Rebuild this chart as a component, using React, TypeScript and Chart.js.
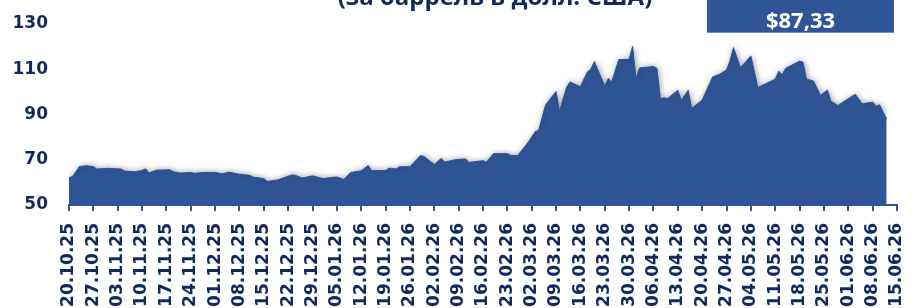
import React, { useEffect, useRef } from "react";
import { Chart, registerables } from "chart.js";

Chart.register(...registerables);

// Days counted from 20.10.25
const dayOffsets = [
  0, 1, 3, 5, 7, 8, 11, 15, 16, 19, 21, 22, 23, 25, 29, 30, 32, 35, 36, 39, 42, 44, 46, 49, 52, 53, 56, 57, 60,
  64, 65, 67, 70, 73, 77, 79, 81, 84, 86, 87, 91, 92, 94, 95, 98, 101, 102, 105, 107, 108, 111, 113, 114, 115,
  119, 120, 122, 126, 127, 129, 132, 134, 135, 137, 140, 141, 143, 144, 147, 149, 150, 151, 154, 155, 156, 158,
  161, 162, 163, 164, 168, 169, 170, 171, 172, 175, 176, 178, 179, 182, 185, 187, 189, 190, 191, 193, 196, 198,
  203, 204, 205, 206, 210, 211, 212, 214, 216, 218, 219, 221, 224, 226, 228, 231, 232, 233, 235,
];

const prices = [
  62, 62.6, 67, 67.3, 67, 65.9, 66.2, 65.9, 65, 64.7, 65.3, 66, 64.1, 65.4, 65.6, 64.7, 64.1, 64.4, 64, 64.4, 64.4,
  63.8, 64.5, 63.6, 63.1, 62.3, 61.7, 60.4, 61.1, 63.3, 63.2, 61.9, 62.9, 61.7, 62.4, 61.3, 64.4, 65.1, 67.5, 65.2,
  65.2, 66.3, 65.9, 66.9, 66.9, 71.8, 71.5, 67.9, 70.6, 69, 70, 70.3, 70.3, 68.8, 69.6, 69, 72.7, 72.7, 71.9, 71.9,
  77.7, 82.4, 83, 94.3, 100.2, 91.5, 101.9, 104.4, 102.3, 108.8, 110, 113.4, 102.6, 105.9, 104.4, 114.2, 114.4,
  120.1, 105.9, 110.6, 111.2, 110.4, 97, 97.4, 97, 100.7, 96.4, 100.7, 92.7, 96.4, 106.6, 107.8, 109.7, 113.7,
  119.6, 110.7, 115.9, 101.9, 105.6, 109.1, 107.6, 110.4, 113.6, 113.1, 105.6, 104.8, 98.4, 100.8, 95.9, 94, 97,
  98.9, 94.7, 95.5, 93.7, 94.3, 88,
];

const tickLabels = [
  "20.10.25", "27.10.25", "03.11.25", "10.11.25", "17.11.25", "24.11.25", "01.12.25", "08.12.25", "15.12.25",
  "22.12.25", "29.12.25", "05.01.26", "12.01.26", "19.01.26", "26.01.26", "02.02.26", "09.02.26", "16.02.26",
  "23.02.26", "02.03.26", "09.03.26", "16.03.26", "23.03.26", "30.03.26", "06.04.26", "13.04.26", "20.04.26",
  "27.04.26", "04.05.26", "11.05.26", "18.05.26", "25.05.26", "01.06.26", "08.06.26", "15.06.26",
];
const tickStepDays = 7;

const yMin = 50;
const yMax = 130;
const yStep = 20;

const titleText = "(за баррель в долл. США)";
const lastPriceText = "$87,33";

const BLUE = "#2F5597";
const NAVY = "#13295E";

const shadowPlugin = {
  id: "areaShadow",
  beforeDatasetsDraw(chart: any) {
    const c = chart.ctx;
    c.save();
    c.shadowColor = "rgba(0,0,0,0.35)";
    c.shadowBlur = 6;
    c.shadowOffsetX = 1;
    c.shadowOffsetY = 0;
  },
  afterDatasetsDraw(chart: any) {
    chart.ctx.restore();
  },
};

export default function App() {
  const ref = useRef<HTMLCanvasElement>(null);

  useEffect(() => {
    document.body.style.margin = "0";
    const canvas = ref.current!;
    const chart = new Chart(canvas, {
      type: "line",
      data: {
        datasets: [
          {
            data: dayOffsets.map((d, i) => ({ x: d, y: prices[i] })),
            fill: "start",
            backgroundColor: BLUE,
            borderColor: BLUE,
            borderWidth: 1,
            pointRadius: 0,
            tension: 0,
          },
        ],
      },
      options: {
        responsive: false,
        animation: false,
        devicePixelRatio: 1,
        layout: { padding: { top: 24, right: 15, left: 0, bottom: 0 } },
        plugins: { legend: { display: false }, tooltip: { enabled: false }, title: { display: false } },
        scales: {
          x: {
            type: "linear",
            min: 0,
            max: (tickLabels.length - 1) * tickStepDays,
            afterBuildTicks: (scale: any) => {
              scale.ticks = tickLabels.map((_, i) => ({ value: i * tickStepDays }));
            },
            afterFit: (scale: any) => {
              scale.height = 103;
              scale.paddingLeft = 0;
              scale.paddingRight = 0;
            },
            ticks: {
              autoSkip: false,
              maxRotation: 90,
              minRotation: 90,
              padding: 12,
              color: NAVY,
              font: { family: "DejaVu Sans", weight: "bold", size: 17 },
              callback: (_v: any, index: number) => tickLabels[index],
            },
            grid: {
              display: true,
              drawOnChartArea: false,
              drawTicks: true,
              tickLength: 6,
              color: BLUE,
              lineWidth: 2,
            },
            border: { display: true, color: BLUE, width: 2 },
          },
          y: {
            min: yMin,
            max: yMax,
            afterFit: (scale: any) => {
              scale.width = 69;
              scale.paddingTop = 0;
              scale.paddingBottom = 0;
            },
            ticks: {
              stepSize: yStep,
              padding: 21,
              color: NAVY,
              font: { family: "DejaVu Sans", weight: "bold", size: 17 },
            },
            grid: { display: false, drawTicks: false },
            border: { display: false },
          },
        },
      },
      plugins: [shadowPlugin],
    } as any);
    return () => chart.destroy();
  }, []);

  return (
    <div style={{ position: "absolute", left: 0, top: 0, width: 912, height: 308, overflow: "hidden", background: "#fff" }}>
      <canvas ref={ref} width={912} height={308} style={{ display: "block", width: 912, height: 308 }} />
      <div
        style={{
          position: "absolute",
          left: 280,
          width: 430,
          top: -16,
          lineHeight: "24px",
          fontSize: 24,
          fontFamily: "'Open Sans', sans-serif",
          fontWeight: 700,
          color: NAVY,
          textAlign: "center",
          whiteSpace: "nowrap",
        }}
      >
        {titleText}
      </div>
      <div
        style={{
          position: "absolute",
          left: 707,
          top: 0,
          width: 187,
          height: 33,
          background: BLUE,
          borderBottom: "1px solid #6F8CC4",
          color: "#fff",
          fontFamily: "'Open Sans', sans-serif",
          fontWeight: 700,
          fontSize: 22,
          lineHeight: "33px",
          textAlign: "center",
          paddingTop: 3,
          boxSizing: "border-box",
        }}
      >
        {lastPriceText}
      </div>
    </div>
  );
}
